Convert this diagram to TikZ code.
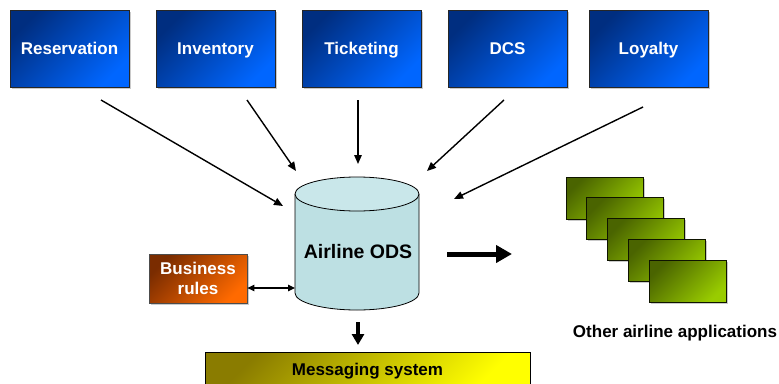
\documentclass[tikz,border=0pt]{standalone}
\usepackage{fontspec}
\setmainfont{Liberation Sans}
\usetikzlibrary{arrows.meta,shadows}
\definecolor{bluedark}{HTML}{002E80}
\definecolor{bluelight}{HTML}{0066FF}
\definecolor{greendark}{HTML}{4A6400}
\definecolor{greenlight}{HTML}{99CC00}
\definecolor{orangedark}{HTML}{7A2C00}
\definecolor{orangelight}{HTML}{FF6A00}
\definecolor{yellowdark}{HTML}{8A7C00}
\definecolor{yellowlight}{HTML}{FFFF00}
\definecolor{cylbody}{HTML}{BDE0E3}
\definecolor{cyltop}{HTML}{C9E7EA}
\tikzset{
  lbl/.style={font=\fontsize{17}{20}\selectfont\bfseries},
  capsonly/.style={text height=12.2pt,text depth=0pt},
  shd/.style={drop shadow={shadow xshift=1.5pt,shadow yshift=-1.5pt,opacity=0.35,fill=black!60}},
  sysbox/.style={lbl,capsonly,text=white,minimum width=119pt,minimum height=77pt,draw=black!85,line width=0.8pt,
    shd,top color=bluedark,bottom color=bluelight,shading angle=45},
  appbox/.style={minimum width=77pt,minimum height=42pt,draw=black!80!greendark,line width=0.8pt,
    shd,top color=greendark,bottom color=greenlight,shading angle=45},
  rulebox/.style={lbl,text=white,align=center,minimum width=98pt,minimum height=49pt,draw=black!70,line width=0.8pt,
    shd,top color=orangedark,bottom color=orangelight,shading angle=45},
  msgbox/.style={lbl,capsonly,text=black,minimum width=325pt,minimum height=34pt,draw=black,line width=0.8pt,
    top color=yellowdark,bottom color=yellowlight,shading angle=45},
  feed/.style={line width=1.4pt,-{Triangle[length=9pt,width=7.5pt]}},
  fat/.style={line width=5pt,-{Triangle[length=16pt,width=17pt]}},
  fatdown/.style={line width=4.5pt,-{Triangle[length=11pt,width=12pt]}},
  twoway/.style={line width=1.2pt,{Triangle[length=7pt,width=6.5pt]}-{Triangle[length=7pt,width=6.5pt]}},
}
\begin{document}
\begin{tikzpicture}[x=1pt,y=-1pt]
\useasboundingbox (0,0) rectangle (779,383);
% top systems
\node[sysbox] (res) at (69.5,48.5) {Reservation};
\node[sysbox] (inv) at (215.5,48.5) {Inventory};
\node[sysbox] (tic) at (361.5,48.5) {Ticketing};
\node[sysbox] (dcs) at (507.5,48.5) {DCS};
\node[sysbox] (loy) at (648.5,48.5) {Loyalty};
% cylinder
\fill[cylbody] (295,194) -- (295,293) arc[start angle=180,end angle=360,x radius=62pt,y radius=17pt] -- (419,194) -- cycle;
\draw[line width=0.8pt] (295,194) -- (295,293) arc[start angle=180,end angle=360,x radius=62pt,y radius=17pt] -- (419,194);
\draw[line width=0.8pt,fill=cyltop] (357,194) ellipse[x radius=62pt,y radius=17pt];
\node[font=\fontsize{19.5}{23}\selectfont\bfseries,text height=14.5pt,text depth=0pt] (ods) at (358,251) {Airline ODS};
% business rules
\node[rulebox] (rules) at (198,278.5) {Business\\rules};
% messaging
\node[msgbox] (msg) at (367.5,369.5) {Messaging system};
% other apps
\foreach \k in {0,...,4}{
  \node[appbox] (app\k) at ({604.5+20.75*\k},{198+20.75*\k}) {};
}
\node[lbl,capsonly] (otherlbl) at (675,331) {Other airline applications};
% connector end points
\coordinate (resS) at (101,100); \coordinate (resE) at (283,206);
\coordinate (invS) at (247,100); \coordinate (invE) at (296,171);
\coordinate (ticS) at (358,100); \coordinate (ticE) at (358,164);
\coordinate (dcsS) at (504,100); \coordinate (dcsE) at (427,171);
\coordinate (loyS) at (643,107); \coordinate (loyE) at (454,199);
\draw[feed] (resS) -- (resE);
\draw[feed] (invS) -- (invE);
\draw[feed] (ticS) -- (ticE);
\draw[feed] (dcsS) -- (dcsE);
\draw[feed] (loyS) -- (loyE);
\coordinate (outS) at (447,254); \coordinate (outE) at (512,254);
\draw[fat] (outS) -- (outE);
\coordinate (dnS) at (358,322); \coordinate (dnE) at (358,345);
\draw[fatdown] (dnS) -- (dnE);
\draw[twoway] (rules.east |- 0,288) -- (295,288);
\end{tikzpicture}
\end{document}
